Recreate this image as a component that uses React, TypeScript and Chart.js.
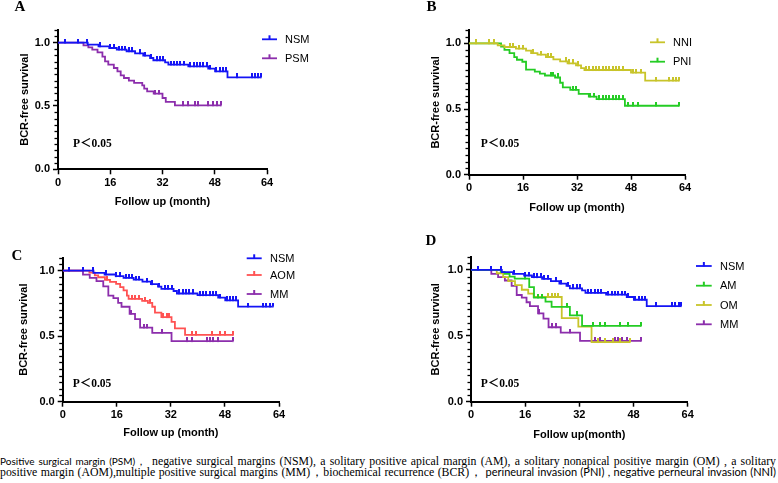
import React, { useEffect, useRef } from 'react';
import { Chart, registerables } from 'chart.js';

Chart.register(...registerables);

// ---------- axis ticks ----------
const xTickValues = [0, 16, 32, 48, 64];
const yTickValues = [0, 0.5, 1.0];
const yMinorStep = 0.05;

// ---------- data (months, survival after event, censor times) ----------
const nsmTimes = [9.1, 12.4, 15.7, 18.0, 21.0, 23.6, 26.1, 28.2, 29.2, 32.8, 33.8, 39.9, 46.0, 48.1, 51.9];
const nsmSurv = [0.984, 0.971, 0.958, 0.945, 0.932, 0.916, 0.897, 0.879, 0.861, 0.845, 0.826, 0.813, 0.795, 0.774, 0.726];
const nsmCensor = [2, 6, 9, 12.8, 15.9, 17, 18.6, 19.6, 20.6, 21.6, 22.6, 25, 26.5, 28.6, 30.2, 31.2, 32.2, 34.5, 35.5, 36.5, 37.5, 38.5, 40.5, 41.5, 42.5, 43.5, 44.5, 45.5, 46.5, 48.5, 49.5, 50.5, 51.3, 54.7, 59.3, 60.3, 61.3, 62.1];

const psmTimes = [7.8, 9.3, 10.5, 12.1, 13.6, 14.4, 15.4, 17.1, 18.2, 19.2, 20.2, 21.7, 23.3, 25.8, 26.4, 27.3, 29.3, 32.0, 33.0, 35.8];
const psmSurv = [0.979, 0.963, 0.945, 0.924, 0.889, 0.853, 0.826, 0.800, 0.774, 0.742, 0.721, 0.700, 0.682, 0.663, 0.637, 0.616, 0.597, 0.563, 0.532, 0.505];
const psmCensor = [29.8, 30.8, 38.4, 39.9, 42.0, 43.0, 46.0, 47.6, 48.7, 49.9];

const nniTimes = [8.5, 10.5, 13.9, 16.9, 18.4, 20.3, 22.8, 25.0, 27.0, 29.2, 31.7, 33.2, 34.2, 48.0, 52.2];
const nniSurv = [0.985, 0.972, 0.959, 0.944, 0.926, 0.914, 0.896, 0.878, 0.863, 0.848, 0.832, 0.812, 0.797, 0.777, 0.716];
const nniCensor = [2.1, 6, 7.5, 12, 12.9, 14.9, 15.9, 18.9, 21.3, 23.3, 24.3, 28.7, 29.7, 30.7, 32.2, 34.7, 35.7, 36.6, 37.6, 38.6, 39.6, 40.6, 41.6, 42.6, 43.6, 44.5, 45.5, 48.5, 49.5, 51, 55.4, 59.4, 60.3, 61.3, 62.3];

const pniTimes = [9.5, 10.5, 12.0, 13.4, 14.2, 15.8, 16.9, 19.5, 21.0, 22.5, 25.5, 27.0, 27.8, 30.0, 32.5, 35.5, 37.8, 46.2];
const pniSurv = [0.975, 0.95, 0.925, 0.895, 0.875, 0.86, 0.80, 0.785, 0.77, 0.755, 0.74, 0.70, 0.665, 0.645, 0.615, 0.595, 0.575, 0.525];
const pniCensor = [24.3, 25.0, 26.3, 30.8, 31.6, 35.9, 37.1, 38.6, 39.6, 40.6, 41.6, 42.6, 43.6, 44.5, 45.5, 47.0, 48.5, 50.0, 55.4, 62.3];

const aomTimes = [7.9, 9.5, 10.5, 12.5, 14.0, 15.8, 17.0, 18.0, 19.0, 19.5, 23.5, 25.2, 26.5, 27.3, 29.2, 32.2, 33.2, 36.2];
const aomSurv = [0.985, 0.965, 0.95, 0.93, 0.915, 0.90, 0.875, 0.85, 0.81, 0.785, 0.77, 0.755, 0.725, 0.68, 0.645, 0.61, 0.56, 0.51];
const aomCensor = [9.1, 13.0, 20.5, 21.5, 22.5, 24.4, 25.8, 29.8, 30.8, 31.6, 38.4, 39.4, 44.3, 46.5, 48.0, 50.5];

const mmTimes = [6.0, 8.0, 10.0, 12.0, 13.5, 15.0, 16.4, 17.4, 19.8, 21.4, 22.9, 26.5, 32.2];
const mmSurv = [0.97, 0.945, 0.92, 0.88, 0.81, 0.79, 0.755, 0.725, 0.67, 0.63, 0.565, 0.525, 0.462];
const mmCensor = [20.2, 24.0, 25.0, 29.3, 36.7, 38.2, 42.6, 43.5, 44.5, 46.0, 50.3];

const amTimes = [8.8, 9.9, 11.4, 12.9, 17.2, 18.6, 22.0, 23.8, 29.2, 32.8];
const amSurv = [0.985, 0.97, 0.95, 0.935, 0.87, 0.79, 0.76, 0.72, 0.655, 0.575];
const amCensor = [16.0, 19.9, 20.9, 28.3, 31.2, 36.1, 38.1, 39.6, 44.0, 46.4, 50.2];

const omTimes = [7.6, 9.5, 11.0, 13.0, 15.0, 16.9, 18.5, 26.8, 31.7, 35.6];
const omSurv = [0.975, 0.945, 0.915, 0.885, 0.85, 0.82, 0.795, 0.635, 0.57, 0.453];
const omCensor = [22.8, 23.8, 24.8, 25.8, 37.5, 39.5, 42.0, 44.0, 47.0];

// ---------- helpers ----------
type Pt = { x: number; y: number; c: boolean };

function kmPoints(times: number[], surv: number[], censor: number[]): Pt[] {
  const all: Pt[] = [];
  times.forEach((t, i) => all.push({ x: t, y: surv[i], c: false }));
  censor.forEach((t) => {
    let s = 1;
    for (let i = 0; i < times.length; i++) if (times[i] <= t) s = surv[i];
    all.push({ x: t, y: s, c: true });
  });
  all.sort((a, b) => a.x - b.x || (a.c ? 1 : 0) - (b.c ? 1 : 0));
  return [{ x: 0, y: 1, c: false }, ...all];
}

function tickImage(color: string) {
  const c = document.createElement('canvas');
  c.width = 2;
  c.height = 8;
  const g = c.getContext('2d')!;
  g.fillStyle = color;
  g.fillRect(0, 0, 2, 4.5);
  return c;
}

const BLUE = '#1414f5';
const PURPLE = '#8c2eac';
const YELLOW = '#c8c42a';
const GREEN = '#24cc24';
const RED = '#ff5252';

type Series = { label: string; times: number[]; surv: number[]; censor: number[]; color: string };

const NSM: Series = { label: 'NSM', times: nsmTimes, surv: nsmSurv, censor: nsmCensor, color: BLUE };
const PSM: Series = { label: 'PSM', times: psmTimes, surv: psmSurv, censor: psmCensor, color: PURPLE };
const NNI: Series = { label: 'NNI', times: nniTimes, surv: nniSurv, censor: nniCensor, color: YELLOW };
const PNI: Series = { label: 'PNI', times: pniTimes, surv: pniSurv, censor: pniCensor, color: GREEN };
const AOM: Series = { label: 'AOM', times: aomTimes, surv: aomSurv, censor: aomCensor, color: RED };
const MM: Series = { label: 'MM', times: mmTimes, surv: mmSurv, censor: mmCensor, color: PURPLE };
const AM: Series = { label: 'AM', times: amTimes, surv: amSurv, censor: amCensor, color: GREEN };
const OM: Series = { label: 'OM', times: omTimes, surv: omSurv, censor: omCensor, color: YELLOW };

type PanelSpec = {
  letter: string;
  left: number; top: number; w: number; h: number;
  pad: { left: number; top: number; right: number; bottom: number };
  yW: number; xH: number;
  letterPos: [number, number];
  pPos: [number, number];
  legX: [number, number, number];
  legY: number[];
  xTitle: string;
  series: Series[];
};

const panels: PanelSpec[] = [
  {
    letter: 'A', left: 0, top: 0, w: 389, h: 220,
    pad: { left: 18, top: 30, right: 122, bottom: 11.7 }, yW: 40, xH: 39,
    letterPos: [20, 7], pPos: [73, 144], legX: [262, 277, 285], legY: [39.3, 58.3],
    xTitle: 'Follow up (month)', series: [NSM, PSM],
  },
  {
    letter: 'B', left: 389, top: 0, w: 389, h: 220,
    pad: { left: 40.4, top: 30.2, right: 93, bottom: 5.7 }, yW: 39.6, xH: 39.6,
    letterPos: [42.5, 7], pPos: [91.7, 144], legX: [261, 276, 284], legY: [42.3, 61.7],
    xTitle: 'Follow up (month)', series: [NNI, PNI],
  },
  {
    letter: 'C', left: 0, top: 220, w: 389, h: 225,
    pad: { left: 17.7, top: 37.6, right: 110, bottom: 5.7 }, yW: 45, xH: 37.6,
    letterPos: [17, 36], pPos: [72.7, 164], legX: [246.7, 261.7, 270], legY: [38.3, 55, 74],
    xTitle: 'Follow up (month)', series: [NSM, AOM, MM],
  },
  {
    letter: 'D', left: 389, top: 220, w: 389, h: 225,
    pad: { left: 40.7, top: 36.8, right: 90.3, bottom: 3.7 }, yW: 41.3, xH: 39.6,
    letterPos: [42, 21], pPos: [91.7, 164], legX: [307, 322.7, 331], legY: [46, 65.7, 85, 104.3],
    xTitle: 'Follow up(month)', series: [NSM, AM, OM, MM],
  },
];

const SANS = '"Liberation Sans", Arial, sans-serif';
const SERIF = '"Liberation Serif", "Times New Roman", serif';

function KMPanel({ spec }: { spec: PanelSpec }) {
  const ref = useRef<HTMLCanvasElement>(null);
  useEffect(() => {
    const canvas = ref.current!;
    const datasets = spec.series.map((s) => {
      const pts = kmPoints(s.times, s.surv, s.censor);
      return {
        label: s.label,
        data: pts.map((p) => ({ x: p.x, y: p.y })),
        borderColor: s.color,
        backgroundColor: s.color,
        borderWidth: 1.8,
        stepped: 'before' as const,
        fill: false,
        pointStyle: tickImage(s.color),
        pointRadius: (ctx: any) => (pts[ctx.dataIndex] && pts[ctx.dataIndex].c ? 2 : 0),
        pointHoverRadius: 0,
        pointHitRadius: 0,
      };
    });

    const overlay = {
      id: 'overlay' + spec.letter,
      afterDraw(chart: any) {
        const ctx = chart.ctx as CanvasRenderingContext2D;
        const yScale = chart.scales.y;
        const axisX = chart.chartArea.left;
        ctx.save();
        // minor y ticks
        ctx.strokeStyle = '#000';
        ctx.lineWidth = 1.3;
        for (let i = 1; i <= Math.round(1.1 / yMinorStep); i++) {
          const v = i * yMinorStep;
          if (yTickValues.some((t) => Math.abs(t - v) < 1e-6)) continue;
          const py = Math.round(yScale.getPixelForValue(v)) + 0.5;
          ctx.beginPath();
          ctx.moveTo(axisX - 3.5, py);
          ctx.lineTo(axisX, py);
          ctx.stroke();
        }
        // legend
        spec.series.forEach((s, i) => {
          const y = spec.legY[i];
          const [x1, x2, tx] = spec.legX;
          ctx.strokeStyle = s.color;
          ctx.lineWidth = 1.8;
          ctx.beginPath();
          ctx.moveTo(x1, y);
          ctx.lineTo(x2, y);
          ctx.stroke();
          ctx.fillStyle = s.color;
          ctx.fillRect((x1 + x2) / 2 - 1, y - 4, 2, 4.5);
          ctx.fillStyle = '#000';
          ctx.font = '11px ' + SANS;
          ctx.textAlign = 'left';
          ctx.textBaseline = 'middle';
          ctx.fillText(s.label, tx, y + 0.5);
        });
        // P value
        ctx.fillStyle = '#000';
        ctx.font = 'bold 11.5px ' + SERIF + ', "Noto Sans CJK SC"';
        ctx.textAlign = 'left';
        ctx.textBaseline = 'middle';
        ctx.fillText('P＜0.05', spec.pPos[0], spec.pPos[1]);
        // panel letter
        ctx.font = 'bold 15px ' + SERIF;
        ctx.textAlign = 'center';
        ctx.fillText(spec.letter, spec.letterPos[0], spec.letterPos[1]);
        ctx.restore();
      },
    };

    const tickFont = { family: SANS, size: 11, weight: 'bold' as const };
    const chart = new Chart(canvas, {
      type: 'line',
      data: { datasets: datasets as any },
      options: {
        responsive: false,
        animation: false,
        events: [],
        layout: { padding: spec.pad },
        plugins: { legend: { display: false }, tooltip: { enabled: false } },
        scales: {
          x: {
            type: 'linear',
            min: 0,
            max: 64,
            afterBuildTicks: (s: any) => { s.ticks = xTickValues.map((v) => ({ value: v })); },
            afterFit: (s: any) => { s.height = spec.xH; },
            grid: { display: true, drawOnChartArea: false, drawTicks: true, tickLength: 5, tickColor: '#000', tickWidth: 1.5 },
            border: { display: true, color: '#000', width: 2 },
            ticks: { color: '#000', font: tickFont, padding: 2, maxRotation: 0, autoSkip: false },
            title: { display: true, text: spec.xTitle, color: '#000', font: tickFont, padding: 0 },
          },
          y: {
            type: 'linear',
            min: 0,
            max: 1.1,
            afterBuildTicks: (s: any) => { s.ticks = yTickValues.map((v) => ({ value: v })); },
            afterFit: (s: any) => { s.width = spec.yW; },
            grid: { display: true, drawOnChartArea: false, drawTicks: true, tickLength: 5, tickColor: '#000', tickWidth: 1.5 },
            border: { display: true, color: '#000', width: 2 },
            ticks: { color: '#000', font: tickFont, padding: 3, callback: (v: any) => Number(v).toFixed(1) },
            title: { display: true, text: 'BCR-free survival', color: '#000', font: tickFont, padding: 0 },
          },
        },
      },
      plugins: [overlay],
    });
    return () => chart.destroy();
  }, [spec]);
  return (
    <canvas
      ref={ref}
      width={spec.w}
      height={spec.h}
      style={{ position: 'absolute', left: spec.left, top: spec.top, width: spec.w, height: spec.h }}
    />
  );
}

const CAP_SANS = 'Lato, "Liberation Sans", sans-serif';
const capLine: React.CSSProperties = {
  position: 'absolute', left: 0, width: 776, lineHeight: '12px', fontFamily: SERIF, fontSize: 11.8,
  color: '#000', textAlign: 'justify', textAlignLast: 'justify', whiteSpace: 'normal',
};

export default function App() {
  return (
    <div style={{ position: 'absolute', left: 0, top: 0, width: 778, height: 483, background: '#fff', overflow: 'hidden' }}>
      {panels.map((p) => (
        <KMPanel key={p.letter} spec={p} />
      ))}
      <div style={{ ...capLine, top: 455 }}>
        <span style={{ fontFamily: CAP_SANS, fontSize: 10 }}>Positive surgical margin (PSM)，</span>
        {' negative surgical margins (NSM), a solitary positive apical margin (AM), a solitary nonapical positive margin (OM) , a solitary'}
      </div>
      <div style={{ ...capLine, top: 466 }}>
        {'positive margin (AOM),multiple positive surgical margins (MM)，biochemical recurrence (BCR)，'}
        <span style={{ fontFamily: CAP_SANS, fontSize: 11 }}> perineural invasion (PNI) , negative perneural invasion (NNI)</span>
      </div>
    </div>
  );
}
